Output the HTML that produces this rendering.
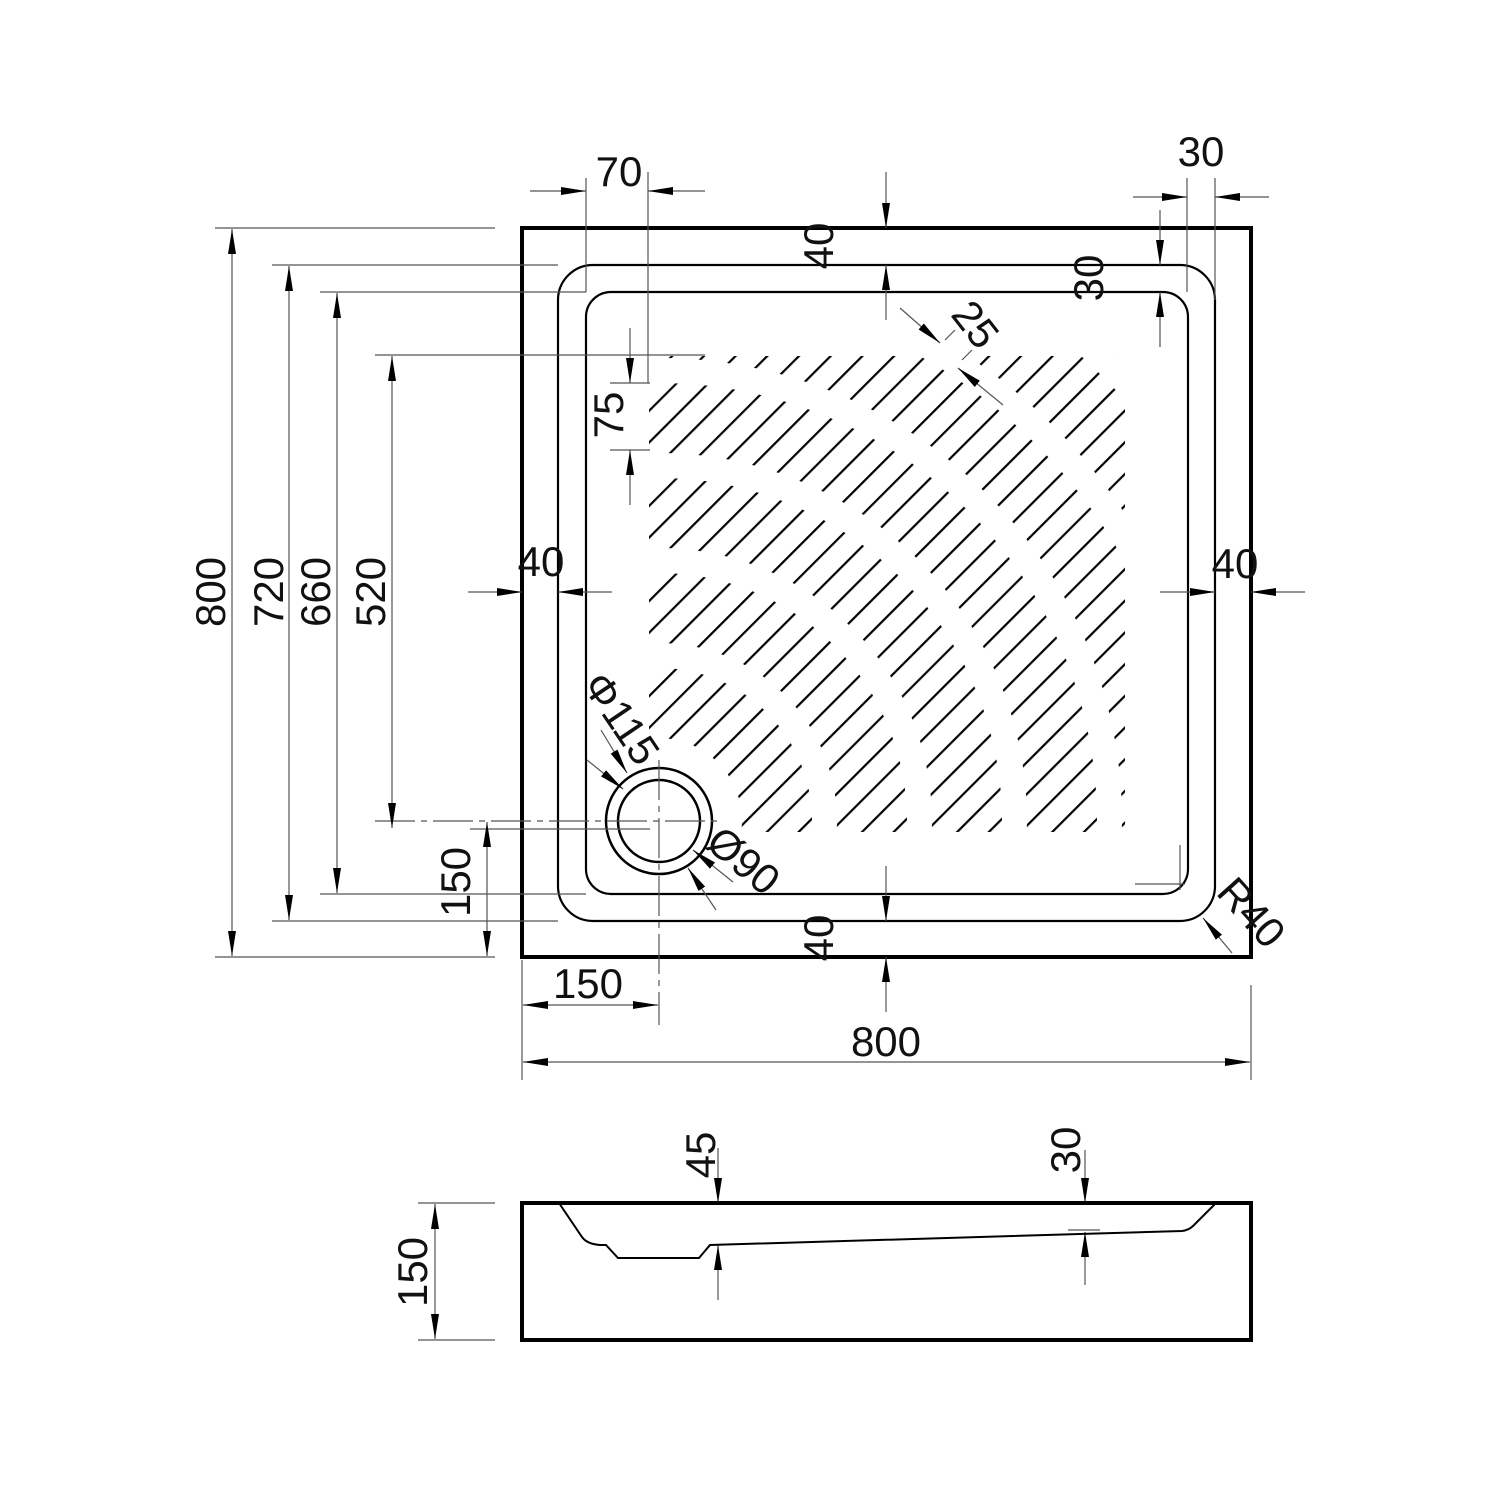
<!DOCTYPE html>
<html><head><meta charset="utf-8"><style>
html,body{margin:0;padding:0;background:#fff;}
svg{display:block;}
text{font-family:"Liberation Sans",sans-serif;font-size:42px;fill:#111;}
</style></head><body>
<svg width="1500" height="1500" viewBox="0 0 1500 1500" xmlns="http://www.w3.org/2000/svg">
<defs>
<marker id="a" markerUnits="userSpaceOnUse" markerWidth="26" markerHeight="10" refX="25" refY="5" orient="auto-start-reverse">
<path d="M0,1 L25,5 L0,9 z" fill="#000"/>
</marker>
<pattern id="h" patternUnits="userSpaceOnUse" width="22.42" height="20" patternTransform="rotate(45)">
<line x1="9.6" y1="-1" x2="9.6" y2="21" stroke="#000" stroke-width="2.2"/>
</pattern>
<mask id="m" maskUnits="userSpaceOnUse" x="0" y="0" width="1500" height="1500">
<g fill="none" stroke="#fff" stroke-width="70">
<circle cx="659" cy="821" r="118"/>
<circle cx="659" cy="821" r="213"/>
<circle cx="659" cy="821" r="308"/>
<circle cx="659" cy="821" r="403"/>
<circle cx="659" cy="821" r="498"/>
<circle cx="659" cy="821" r="593"/>
<circle cx="659" cy="821" r="688"/>
</g>
</mask>
</defs>

<!-- hatch -->
<rect x="649" y="356" width="476" height="476" fill="url(#h)" mask="url(#m)"/>

<!-- main outline -->
<rect x="522" y="228" width="729" height="729" fill="none" stroke="#000" stroke-width="4"/>
<rect x="558" y="265" width="657" height="656" rx="35" fill="none" stroke="#000" stroke-width="2.2"/>
<rect x="586" y="292" width="602" height="602" rx="25" fill="none" stroke="#000" stroke-width="2.2"/>
<circle cx="659" cy="821" r="53" fill="#fff" stroke="#000" stroke-width="2.5"/>
<circle cx="659" cy="821" r="41" fill="none" stroke="#000" stroke-width="2.5"/>

<g stroke="#555" stroke-width="1.2" fill="none">
<line x1="375" y1="821" x2="720" y2="821" stroke-dasharray="40,6,6,6"/>
<line x1="659" y1="760" x2="659" y2="1025" stroke-dasharray="40,6,6,6"/>
<line x1="470" y1="829" x2="650" y2="829"/>
<line x1="215" y1="228" x2="495" y2="228"/>
<line x1="272" y1="265" x2="558" y2="265"/>
<line x1="320" y1="292" x2="586" y2="292"/>
<line x1="375" y1="355" x2="705" y2="355"/>
<line x1="320" y1="894" x2="586" y2="894"/>
<line x1="272" y1="921" x2="558" y2="921"/>
<line x1="215" y1="957" x2="495" y2="957"/>
<line x1="586" y1="178" x2="586" y2="292"/>
<line x1="648" y1="172" x2="648" y2="383"/>
<line x1="610" y1="383" x2="650" y2="383"/>
<line x1="610" y1="450" x2="650" y2="450"/>
<line x1="1187" y1="178" x2="1187" y2="292"/>
<line x1="1215" y1="178" x2="1215" y2="300"/>
<line x1="1180" y1="845" x2="1180" y2="890"/>
<line x1="1135" y1="884" x2="1185" y2="884"/>
<line x1="522" y1="960" x2="522" y2="1080"/>
<line x1="1251" y1="985" x2="1251" y2="1080"/>
<line x1="418" y1="1203" x2="495" y2="1203"/>
<line x1="418" y1="1340" x2="495" y2="1340"/>
<line x1="1068" y1="1230" x2="1100" y2="1230"/>
</g>

<g stroke="#555" stroke-width="1.2" fill="none">
<line x1="232" y1="229" x2="232" y2="956" marker-start="url(#a)" marker-end="url(#a)"/>
<line x1="289" y1="266" x2="289" y2="920" marker-start="url(#a)" marker-end="url(#a)"/>
<line x1="337" y1="293" x2="337" y2="893" marker-start="url(#a)" marker-end="url(#a)"/>
<line x1="392" y1="356" x2="392" y2="828" marker-start="url(#a)" marker-end="url(#a)"/>
<line x1="487" y1="822" x2="487" y2="956" marker-start="url(#a)" marker-end="url(#a)"/>
<line x1="530" y1="191" x2="586" y2="191" marker-end="url(#a)"/>
<line x1="705" y1="191" x2="648" y2="191" marker-end="url(#a)"/>
<line x1="630" y1="328" x2="630" y2="383" marker-end="url(#a)"/>
<line x1="630" y1="505" x2="630" y2="450" marker-end="url(#a)"/>
<line x1="886" y1="172" x2="886" y2="228" marker-end="url(#a)"/>
<line x1="886" y1="320" x2="886" y2="265" marker-end="url(#a)"/>
<line x1="1133" y1="197" x2="1187" y2="197" marker-end="url(#a)"/>
<line x1="1269" y1="197" x2="1215" y2="197" marker-end="url(#a)"/>
<line x1="1160" y1="210" x2="1160" y2="265" marker-end="url(#a)"/>
<line x1="1160" y1="347" x2="1160" y2="292" marker-end="url(#a)"/>
<line x1="900" y1="308" x2="940" y2="343" marker-end="url(#a)"/>
<line x1="1003" y1="405" x2="958" y2="368" marker-end="url(#a)"/>
<line x1="945" y1="340" x2="955" y2="330"/>
<line x1="962" y1="360" x2="972" y2="350"/>
<line x1="468" y1="592" x2="522" y2="592" marker-end="url(#a)"/>
<line x1="612" y1="592" x2="558" y2="592" marker-end="url(#a)"/>
<line x1="1160" y1="592" x2="1215" y2="592" marker-end="url(#a)"/>
<line x1="1305" y1="592" x2="1251" y2="592" marker-end="url(#a)"/>
<line x1="886" y1="866" x2="886" y2="921" marker-end="url(#a)"/>
<line x1="886" y1="1012" x2="886" y2="957" marker-end="url(#a)"/>
<line x1="601" y1="730" x2="627" y2="773" marker-end="url(#a)"/>
<line x1="587" y1="760" x2="623" y2="789" marker-end="url(#a)"/>
<line x1="733" y1="882" x2="693" y2="850" marker-end="url(#a)"/>
<line x1="716" y1="910" x2="688" y2="868" marker-end="url(#a)"/>
<line x1="1232" y1="953" x2="1203" y2="918" marker-end="url(#a)"/>
<line x1="523" y1="1005" x2="658" y2="1005" marker-start="url(#a)" marker-end="url(#a)"/>
<line x1="523" y1="1062" x2="1250" y2="1062" marker-start="url(#a)" marker-end="url(#a)"/>
<line x1="435" y1="1204" x2="435" y2="1339" marker-start="url(#a)" marker-end="url(#a)"/>
<line x1="718" y1="1148" x2="718" y2="1203" marker-end="url(#a)"/>
<line x1="718" y1="1300" x2="718" y2="1245" marker-end="url(#a)"/>
<line x1="1085" y1="1150" x2="1085" y2="1203" marker-end="url(#a)"/>
<line x1="1085" y1="1285" x2="1085" y2="1232" marker-end="url(#a)"/>
</g>

<rect x="522" y="1203" width="729" height="137" fill="none" stroke="#000" stroke-width="4"/>
<path d="M559,1203 L582,1237 Q587,1244 600,1245 L606,1245 L618,1258 L699,1258 L710,1245 L1182,1231 Q1189,1230 1193,1226 L1215,1204" fill="none" stroke="#000" stroke-width="2"/>

<text x="619" y="186" text-anchor="middle">70</text>
<text x="1201" y="166" text-anchor="middle">30</text>
<text x="541" y="576" text-anchor="middle">40</text>
<text x="1235" y="578" text-anchor="middle">40</text>
<text x="588" y="998" text-anchor="middle">150</text>
<text x="886" y="1056" text-anchor="middle">800</text>
<text transform="translate(210,592) rotate(-90)" text-anchor="middle" dy="0.36em">800</text>
<text transform="translate(268,592) rotate(-90)" text-anchor="middle" dy="0.36em">720</text>
<text transform="translate(315,592) rotate(-90)" text-anchor="middle" dy="0.36em">660</text>
<text transform="translate(370,592) rotate(-90)" text-anchor="middle" dy="0.36em">520</text>
<text transform="translate(455,882) rotate(-90)" text-anchor="middle" dy="0.36em">150</text>
<text transform="translate(608,415) rotate(-90)" text-anchor="middle" dy="0.36em">75</text>
<text transform="translate(818,246) rotate(-90)" text-anchor="middle" dy="0.36em">40</text>
<text transform="translate(818,938) rotate(-90)" text-anchor="middle" dy="0.36em">40</text>
<text transform="translate(1088,278) rotate(-90)" text-anchor="middle" dy="0.36em">30</text>
<text transform="translate(976,324) rotate(52)" text-anchor="middle" dy="0.36em">25</text>
<text transform="translate(622,718) rotate(56)" text-anchor="middle" dy="0.36em">Φ115</text>
<text transform="translate(744,860) rotate(40)" text-anchor="middle" dy="0.36em">Ø90</text>
<text transform="translate(1252,912) rotate(48)" text-anchor="middle" dy="0.36em">R40</text>
<text transform="translate(412,1272) rotate(-90)" text-anchor="middle" dy="0.36em">150</text>
<text transform="translate(700,1155) rotate(-90)" text-anchor="middle" dy="0.36em">45</text>
<text transform="translate(1065,1150) rotate(-90)" text-anchor="middle" dy="0.36em">30</text>
</svg>
</body></html>
